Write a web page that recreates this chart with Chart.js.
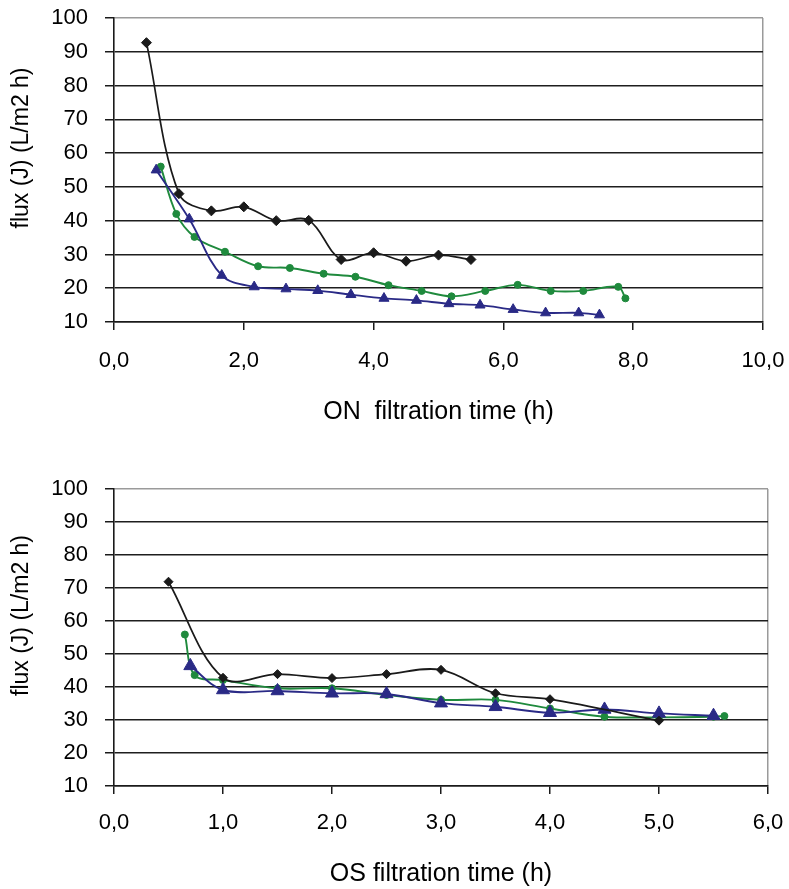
<!DOCTYPE html>
<html>
<head>
<meta charset="utf-8">
<script src="https://cdn.jsdelivr.net/npm/chart.js@4.4.1/dist/chart.umd.min.js"></script>
<style>
  html, body { margin: 0; padding: 0; background: #ffffff; }
  #wrap { position: relative; width: 789px; height: 889px; background: #fff; }
  #c1 { position: absolute; left: 0; top: 0; }
  #c2 { position: absolute; left: 0; top: 445px; }
</style>
</head>
<body>
<div id="wrap">
  <canvas id="c1" width="789" height="445"></canvas>
  <canvas id="c2" width="789" height="444"></canvas>
</div>
<script>
// ---- Data ----
const yTitle = 'flux (J) (L/m2 h)';
const topXTitle = 'ON  filtration time (h)';
const botXTitle = 'OS filtration time (h)';

const topBlackX = [0.5, 1.0, 1.5, 2.0, 2.5, 3.0, 3.5, 4.0, 4.5, 5.0, 5.5];
const topBlackY = [92.7, 48.0, 42.9, 44.1, 40.0, 40.1, 28.5, 30.5, 28.0, 29.8, 28.5];

const topGreenX = [0.72, 0.96, 1.24, 1.71, 2.22, 2.71, 3.23, 3.72, 4.23, 4.74, 5.20, 5.72, 6.22, 6.73, 7.23, 7.77, 7.88];
const topGreenY = [56.0, 42.0, 35.2, 30.8, 26.5, 26.0, 24.3, 23.4, 20.9, 19.2, 17.6, 19.2, 21.0, 19.2, 19.2, 20.4, 17.0];

const topBlueX = [0.65, 1.16, 1.66, 2.16, 2.65, 3.14, 3.65, 4.16, 4.66, 5.16, 5.64, 6.15, 6.65, 7.16, 7.48];
const topBlueY = [55.0, 40.5, 23.8, 20.4, 19.8, 19.3, 18.1, 17.0, 16.4, 15.4, 15.0, 13.7, 12.7, 12.7, 12.1];

const botBlackX = [0.5, 1.0, 1.5, 2.0, 2.5, 3.0, 3.5, 4.0, 5.0];
const botBlackY = [71.9, 42.8, 43.9, 42.7, 43.9, 45.2, 38.1, 36.3, 29.8];

const botGreenX = [0.65, 0.74, 1.0, 1.5, 2.0, 2.5, 3.0, 3.5, 4.0, 4.5, 5.0, 5.5, 5.6];
const botGreenY = [55.9, 43.6, 42.1, 39.6, 39.6, 37.6, 36.1, 36.1, 33.5, 31.0, 30.8, 31.0, 31.2];

const botBlueX = [0.7, 1.0, 1.5, 2.0, 2.5, 3.0, 3.5, 4.0, 4.5, 5.0, 5.5];
const botBlueY = [46.4, 39.1, 38.8, 38.1, 37.9, 35.1, 34.0, 32.2, 33.2, 32.0, 31.3];

const topXTicks = { min: 0, max: 10, step: 2 };
const botXTicks = { min: 0, max: 6, step: 1 };
const yTicks = { min: 10, max: 100, step: 10 };

// ---- Styles ----
const FONT = '"Liberation Sans", Arial, sans-serif';
const BLACK = '#1a1a1a';
const GREEN = '#1f8a3d';
const BLUE = '#2a2a86';
const GRID = '#1e1e1e';
const FRAME = '#9a9a9a';

function pts(xs, ys) { return xs.map((x, i) => ({ x: x, y: ys[i] })); }

function zeroPad(scale) {
  scale.paddingTop = 0; scale.paddingBottom = 0;
  scale.paddingLeft = 0; scale.paddingRight = 0;
}

const yTitlePlugin = {
  id: 'yTitlePlugin',
  afterDraw(chart) {
    const a = chart.chartArea;
    const ctx = chart.ctx;
    ctx.save();
    ctx.translate(21.5, (a.top + a.bottom) / 2 - 22);
    ctx.rotate(-Math.PI / 2);
    ctx.font = '23px ' + FONT;
    ctx.fillStyle = '#000';
    ctx.textAlign = 'center';
    ctx.textBaseline = 'middle';
    ctx.fillText(yTitle, 0, 0);
    ctx.restore();
  }
};

const whiteBg = {
  id: 'whiteBg',
  beforeDraw(chart) {
    const ctx = chart.ctx;
    ctx.save();
    ctx.fillStyle = '#fff';
    ctx.fillRect(0, 0, chart.width, chart.height);
    ctx.restore();
  }
};

function makeChart(canvasId, cfg) {
  const datasets = [
    { label: 'black', data: pts(cfg.bx, cfg.by), borderColor: BLACK, backgroundColor: BLACK,
      borderWidth: 1.7, pointStyle: 'rectRot', pointRadius: cfg.diamondR, pointBorderWidth: 1,
      tension: 0.35 },
    { label: 'blue', data: pts(cfg.ux, cfg.uy), borderColor: BLUE, backgroundColor: BLUE,
      borderWidth: 1.9, pointStyle: 'triangle', pointRadius: cfg.triR, pointBorderWidth: 1,
      tension: 0.35 },
    { label: 'green', data: pts(cfg.gx, cfg.gy), borderColor: GREEN, backgroundColor: GREEN,
      borderWidth: 1.9, pointStyle: 'circle', pointRadius: cfg.circR, pointBorderWidth: 1,
      tension: 0.35 }
  ];
  return new Chart(document.getElementById(canvasId), {
    type: 'line',
    data: { datasets: datasets },
    plugins: [whiteBg, yTitlePlugin],
    options: {
      responsive: false,
      animation: false,
      devicePixelRatio: 1,
      layout: { padding: { top: cfg.padTop, right: cfg.padRight, left: 0, bottom: 0 } },
      plugins: { legend: { display: false }, tooltip: { enabled: false } },
      elements: { line: { fill: false } },
      scales: {
        x: {
          type: 'linear',
          min: cfg.xt.min, max: cfg.xt.max,
          afterFit(scale) { scale.height = cfg.xHeight; zeroPad(scale); },
          ticks: {
            stepSize: cfg.xt.step,
            color: '#000',
            font: { family: FONT, size: 22 },
            padding: cfg.xLabelPad,
            maxRotation: 0,
            callback: (v) => Number(v).toFixed(1).replace('.', ',')
          },
          grid: {
            drawOnChartArea: true,
            color: (c) => (c.tick && c.tick.value === cfg.xt.max) ? FRAME : 'rgba(0,0,0,0)',
            tickColor: BLACK,
            tickLength: 8,
            lineWidth: 1.5
          },
          border: { display: true, color: BLACK, width: 1.6 },
          title: {
            display: true,
            text: cfg.xTitle,
            color: '#000',
            font: { family: FONT, size: 25 },
            padding: { top: 0, bottom: cfg.titlePadBottom }
          }
        },
        y: {
          type: 'linear',
          min: yTicks.min, max: yTicks.max,
          afterFit(scale) { scale.width = 114; zeroPad(scale); },
          ticks: {
            stepSize: yTicks.step,
            color: '#000',
            font: { family: FONT, size: 22 },
            padding: 17
          },
          grid: {
            color: (c) => (c.tick && c.tick.value === yTicks.max) ? FRAME : GRID,
            tickColor: BLACK,
            tickLength: 9,
            lineWidth: 1.5
          },
          border: { display: true, color: BLACK, width: 1.6 },
          title: { display: false }
        }
      }
    }
  });
}

makeChart('c1', {
  bx: topBlackX, by: topBlackY, gx: topGreenX, gy: topGreenY, ux: topBlueX, uy: topBlueY,
  xt: topXTicks, xTitle: topXTitle,
  padTop: 18, padRight: 26, xHeight: 123, xLabelPad: 18, titlePadBottom: 18,
  diamondR: 5, triR: 5.8, circR: 3.5
});

makeChart('c2', {
  bx: botBlackX, by: botBlackY, gx: botGreenX, gy: botGreenY, ux: botBlueX, uy: botBlueY,
  xt: botXTicks, xTitle: botXTitle,
  padTop: 44, padRight: 21, xHeight: 103, xLabelPad: 16, titlePadBottom: 0,
  diamondR: 4.5, triR: 7.5, circR: 3.5
});
</script>
</body>
</html>
